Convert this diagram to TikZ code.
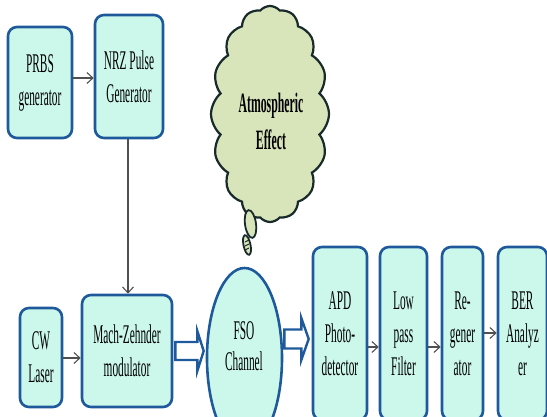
\documentclass[tikz,border=0pt]{standalone}
\usepackage{fontspec}
\setmainfont{Liberation Serif}[FakeStretch=0.42]
\usetikzlibrary{arrows.meta,shapes.symbols,shapes.geometric,calc}
\definecolor{boxfill}{RGB}{204,248,236}
\definecolor{boxline}{RGB}{30,90,155}
\definecolor{cloudfill}{RGB}{216,229,187}
\definecolor{cloudline}{RGB}{25,42,42}
\definecolor{conn}{RGB}{80,80,80}
\tikzset{
  blk/.style={draw=boxline, line width=2.6pt, fill=boxfill, rounded corners=9pt,
    align=center, inner sep=0pt, font=\fontsize{27}{33}\selectfont},
  conarrow/.style={draw=conn, line width=1.1pt, -{Straight Barb[length=6pt,width=11pt,line width=1.1pt]}},
  hollow/.style={draw=boxline, line width=2.4pt, fill=white, line join=miter},
}
\begin{document}
\begin{tikzpicture}[x=1pt,y=-1pt]
\useasboundingbox (0,0) rectangle (547,417);
\clip (0,0) rectangle (547,417);
% boxes
\node[blk, minimum width=64, minimum height=111] (prbs) at (40,82.5) {PRBS\\generator};
\node[blk, minimum width=68, minimum height=123] (nrz) at (129,76.5) {NRZ Pulse\\Generator};
\node[blk, minimum width=42, minimum height=99] (cw) at (41,357.5) {CW\\Laser};
\node[blk, minimum width=90, minimum height=112] (mz) at (127,351) {Mach-Zehnder\\modulator};
\node[draw=boxline, line width=2.6pt, fill=boxfill, ellipse, minimum width=75, minimum height=180,
  inner sep=0pt] (fso) at (244.5,358) {};
\node[align=center, font=\fontsize{27}{31}\selectfont] (fsot) at (244,346) {FSO\\Channel};
\node[blk, minimum width=54, minimum height=173] (apd) at (340,333.5) {APD\\Photo-\\detector};
\node[blk, minimum width=47, minimum height=173] (lp) at (403.5,333.5) {Low\\pass\\Filter};
\node[blk, minimum width=41, minimum height=173] (reg) at (462.5,333.5) {Re-\\gener\\ator};
\node[blk, minimum width=49, minimum height=173] (ber) at (522.5,333.5) {BER\\Analyz\\er};
% cloud
\node[cloud, cloud puffs=16, cloud puff arc=100, aspect=0.6, draw=cloudline, line width=2.2pt,
  fill=cloudfill, minimum width=118, minimum height=216, inner sep=0pt] (cloud) at (270,114) {};
\node[align=center, font=\bfseries\fontsize{28}{37}\selectfont] (cloudt) at (271,121) {Atmospheric\\Effect};
\node[draw=cloudline, line width=1.8pt, fill=cloudfill, ellipse, minimum width=11, minimum height=28,
  inner sep=0pt, rotate=8] (tail1) at (250.5,224) {};
\node[draw=cloudline, line width=1.8pt, fill=cloudfill, ellipse, minimum width=7, minimum height=20,
  inner sep=0pt, rotate=12] (tail2) at (247,245) {};
\draw[cloudline, line width=1pt] (tail2.center) ++(-2,-3) -- ++(4,-2) (tail2.center) ++(-2,1) -- ++(4,-2) (tail2.center) ++(-2,5) -- ++(4,-2);
% connectors
\draw[conarrow] (prbs.east |- 0,78) -- (nrz.west |- 0,78);
\draw[conarrow] (nrz.south -| 128,0) -- (mz.north -| 128,0);
\draw[conarrow] (cw.east |- 0,358) -- (mz.west |- 0,358);
\draw[conarrow] (apd.east |- 0,347) -- (lp.west |- 0,347);
\draw[conarrow] (lp.east |- 0,347) -- (reg.west |- 0,347);
\draw[conarrow] (reg.east |- 0,333) -- (ber.west |- 0,333);
% hollow block arrows
\coordinate (h1) at (mz.east |- 0,351);
\coordinate (h1t) at (fso.west |- 0,351);
\draw[hollow] ($(h1)+(2,0)$) -- ++(0,-9) -- ++(22,0) -- ++(0,-11) -- ($(h1t)+(-2,0)$) -- ($(h1)+(24,20)$) -- ++(0,-11) -- ++(-22,0) -- cycle;
\coordinate (h2) at (fso.east |- 0,339);
\coordinate (h2t) at (apd.west |- 0,339);
\draw[hollow] ($(h2)+(1,0)$) -- ++(0,-9.5) -- ++(17,0) -- ++(0,-11.5) -- ($(h2t)+(-3,0)$) -- ($(h2)+(18,21)$) -- ++(0,-11.5) -- ++(-17,0) -- cycle;
\end{tikzpicture}
\end{document}
